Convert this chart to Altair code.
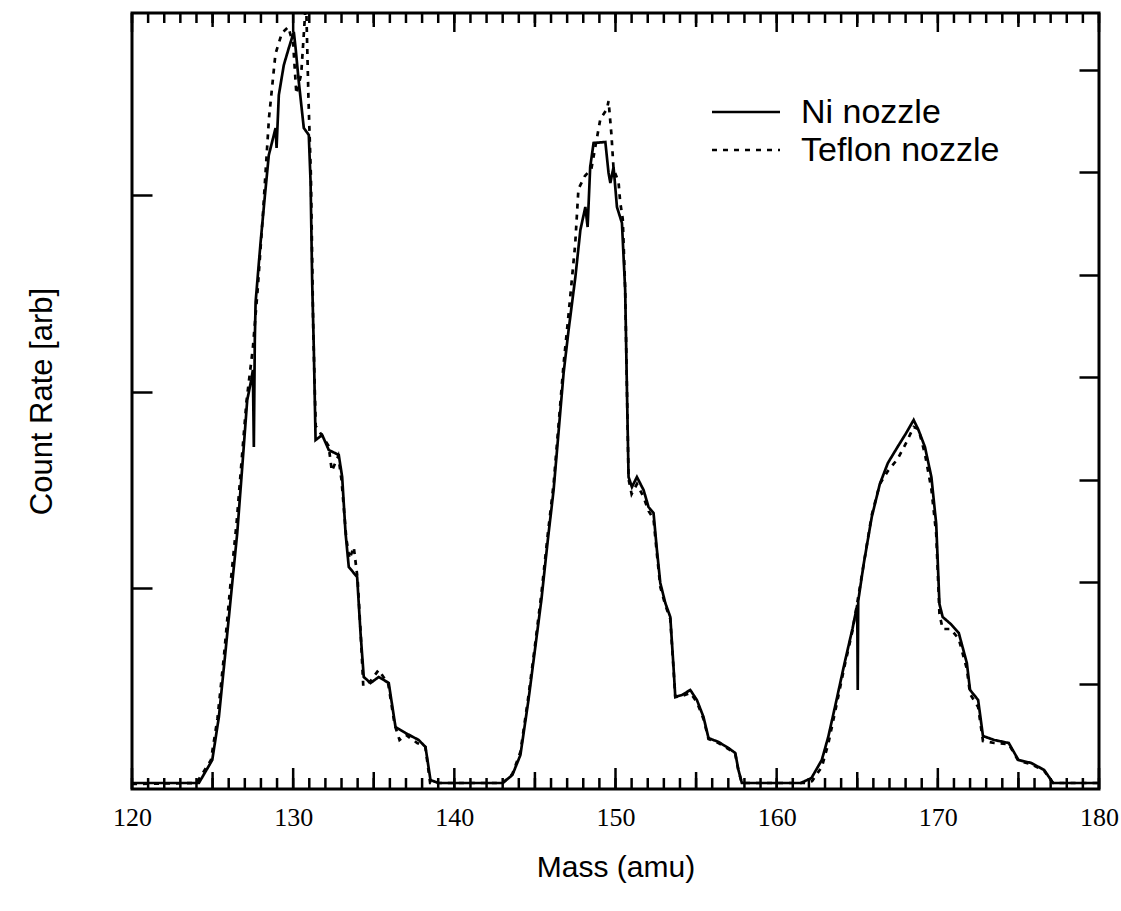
import altair as alt
import pandas as pd

# ---------------- data ----------------
series_names = ["Ni nozzle", "Teflon nozzle"]

ni_mass = [
    120.0, 124.15, 124.98, 125.39, 125.81, 126.22, 126.53, 126.84, 127.15, 127.40,
    127.50, 127.56, 127.62, 127.67, 127.98, 128.25, 128.49, 128.91, 128.97, 129.11,
    129.42, 129.73, 130.04, 130.15, 130.35, 130.66, 130.97, 131.08, 131.18, 131.28,
    131.39, 131.80, 132.21, 132.83, 133.04, 133.25, 133.45, 133.97, 134.18, 134.38,
    134.80, 135.31, 135.93, 136.35, 136.97, 137.79, 138.21, 138.52, 139.0, 143.0,
    143.6, 144.1, 144.6, 145.0, 145.4, 145.8, 146.16, 146.78, 147.09, 147.51,
    147.82, 148.13, 148.27, 148.43, 148.64, 149.37, 149.57, 149.68, 149.88, 150.09,
    150.40, 150.60, 150.71, 150.81, 151.02, 151.33, 151.74, 152.05, 152.36, 152.57,
    152.78, 153.09, 153.40, 153.60, 153.71, 154.12, 154.64, 155.05, 155.46, 155.77,
    156.39, 157.01, 157.43, 157.63, 157.84, 161.5, 162.16, 162.8, 163.2, 163.7,
    164.2, 164.7, 165.0, 165.03, 165.06, 165.4, 165.9, 166.4, 166.9, 167.5,
    168.0, 168.5, 168.8, 169.2, 169.6, 169.9, 170.1, 170.3, 170.8, 171.3,
    171.8, 172.0, 172.5, 172.8, 173.5, 174.4, 175.0, 175.8, 176.6, 177.15,
    180.0,
]
ni_count = [
    0.06, 0.06, 0.29, 0.72, 1.39, 2.06, 2.56, 3.22, 3.89, 4.09,
    4.19, 3.42, 4.49, 4.87, 5.47, 5.94, 6.34, 6.61, 6.41, 6.94,
    7.24, 7.41, 7.57, 7.41, 7.07, 6.61, 6.54, 6.07, 5.07, 4.41,
    3.49, 3.54, 3.39, 3.34, 3.12, 2.56, 2.22, 2.12, 1.56, 1.12,
    1.06, 1.12, 1.06, 0.62, 0.56, 0.49, 0.42, 0.09, 0.06, 0.06,
    0.14, 0.34, 0.89, 1.39, 1.89, 2.49, 2.99, 4.16, 4.59, 5.12,
    5.59, 5.82, 5.62, 6.22, 6.46, 6.47, 6.16, 6.06, 6.22, 5.82,
    5.66, 4.99, 3.99, 3.12, 3.02, 3.12, 2.99, 2.82, 2.76, 2.39,
    2.06, 1.86, 1.72, 1.22, 0.92, 0.94, 0.99, 0.89, 0.72, 0.51,
    0.47, 0.41, 0.36, 0.19, 0.06, 0.06, 0.11, 0.29, 0.52, 0.88,
    1.25, 1.60, 1.84, 0.99, 1.88, 2.25, 2.72, 3.05, 3.26, 3.42,
    3.55, 3.69, 3.59, 3.42, 3.12, 2.65, 1.85, 1.72, 1.65, 1.56,
    1.26, 0.99, 0.89, 0.53, 0.49, 0.46, 0.29, 0.26, 0.19, 0.06,
    0.06,
]

tef_mass = [
    120.0, 124.0, 124.9, 125.3, 125.7, 126.1, 126.5, 126.8, 127.1, 127.5,
    127.8, 128.1, 128.5, 128.9, 129.3, 129.7, 130.0, 130.2, 130.5, 130.8,
    130.95, 131.1, 131.25, 131.4, 131.8, 132.2, 132.4, 132.8, 133.0, 133.3,
    133.5, 133.76, 134.0, 134.2, 134.35, 134.8, 135.3, 135.9, 136.3, 136.6,
    137.0, 137.7, 138.2, 138.5, 143.0, 143.6, 144.1, 144.6, 145.0, 145.4,
    145.8, 146.16, 146.78, 147.09, 147.5, 147.7, 148.1, 148.5, 149.06, 149.47,
    149.57, 149.75, 149.88, 150.19, 150.29, 150.45, 150.6, 150.71, 150.81, 151.0,
    151.33, 151.74, 152.05, 152.36, 152.57, 152.78, 153.09, 153.4, 153.6, 153.71,
    154.12, 154.64, 155.05, 155.46, 155.77, 156.39, 157.01, 157.43, 157.63, 157.84,
    161.8, 162.2, 162.8, 163.2, 163.7, 164.2, 164.7, 165.0, 165.4, 165.9,
    166.4, 166.9, 167.5, 168.0, 168.5, 168.8, 169.2, 169.6, 169.9, 170.1,
    170.3, 170.8, 171.3, 171.8, 172.0, 172.5, 172.8, 173.5, 174.4, 175.0,
    175.8, 176.6, 177.15, 180.0,
]
tef_count = [
    0.05, 0.06, 0.29, 0.70, 1.32, 2.03, 2.68, 3.28, 3.87, 4.41,
    5.00, 5.69, 6.71, 7.35, 7.56, 7.62, 7.45, 6.95, 7.15, 7.90,
    6.90, 6.13, 4.56, 3.63, 3.53, 3.43, 3.18, 3.33, 3.09, 2.50,
    2.30, 2.42, 2.10, 1.52, 1.03, 1.08, 1.19, 1.05, 0.64, 0.49,
    0.54, 0.46, 0.42, 0.06, 0.06, 0.15, 0.37, 0.93, 1.43, 1.95,
    2.55, 3.05, 4.25, 4.75, 5.45, 6.00, 6.13, 6.20, 6.70, 6.80,
    6.88, 6.54, 6.20, 6.07, 5.87, 5.70, 5.00, 4.00, 3.10, 2.95,
    3.05, 2.92, 2.78, 2.70, 2.35, 2.02, 1.84, 1.70, 1.20, 0.92,
    0.93, 0.96, 0.87, 0.70, 0.50, 0.46, 0.40, 0.35, 0.18, 0.06,
    0.06, 0.08, 0.22, 0.45, 0.83, 1.22, 1.58, 1.86, 2.25, 2.74,
    3.05, 3.18, 3.30, 3.45, 3.62, 3.60, 3.35, 3.00, 2.55, 1.75,
    1.60, 1.60, 1.50, 1.20, 0.95, 0.82, 0.48, 0.46, 0.45, 0.28,
    0.25, 0.18, 0.06, 0.06,
]

# tick values
x_major_ticks = [120, 130, 140, 150, 160, 170, 180]
x_five_ticks = [125, 135, 145, 155, 165, 175]
x_unit_ticks = list(range(120, 181))
y_left_ticks = [2.01, 3.97, 5.94]
y_right_ticks = [1.05, 2.07, 3.09, 4.12, 5.14, 6.17, 7.19]

assert len(ni_mass) == len(ni_count)
assert len(tef_mass) == len(tef_count)

df = pd.concat([
    pd.DataFrame({"mass": ni_mass, "count": ni_count, "series": series_names[0]}),
    pd.DataFrame({"mass": tef_mass, "count": tef_count, "series": series_names[1]}),
], ignore_index=True)

# ---------------- styling ----------------
W, H = 967, 776
SANS = "Liberation Sans"
SERIF = "Liberation Serif"
DOTS = [5, 6]
TICK_W = 2.5

xs = alt.Scale(domain=[120, 180], nice=False, zero=False)
ys = alt.Scale(domain=[0, 7.76], nice=False, zero=False)


def inward_axis(orient, values, size, **kw):
    # axis line pushed inside by `size`, ticks pointing back to the frame edge
    return alt.Axis(orient=orient, values=values, tickSize=size, offset=-size,
                    domain=False, grid=False, tickColor="black",
                    tickWidth=TICK_W, **kw)


x_bottom = alt.Axis(
    orient="bottom", values=x_major_ticks, ticks=False, domain=False,
    grid=False, format="d", labelFlush=False, labelOverlap=False,
    labelFont=SERIF, labelFontSize=26, labelColor="black", labelPadding=15,
    title="Mass (amu)", titleFont=SANS, titleFontSize=30,
    titleFontWeight="normal", titleColor="black", titlePadding=22)
y_left = inward_axis(
    "left", y_left_ticks, 20, labels=False,
    title="Count Rate [arb]", titleFont=SANS, titleFontSize=31,
    titleFontWeight="normal", titleColor="black", titlePadding=72)

lines = alt.Chart(df).mark_line(color="black", strokeWidth=2.7, clip=True).encode(
    x=alt.X("mass:Q", scale=xs, axis=x_bottom),
    y=alt.Y("count:Q", scale=ys, axis=y_left),
    strokeDash=alt.StrokeDash(
        "series:N",
        scale=alt.Scale(domain=series_names, range=[[1, 0], DOTS]),
        legend=None),
)

right_axis_layer = alt.Chart(df).mark_point(opacity=0).encode(
    x=alt.X("mass:Q", scale=xs, axis=None),
    y=alt.Y("count:Q", scale=ys,
            axis=inward_axis("right", y_right_ticks, 20, labels=False, title=None)),
)


# x ticks (inward, three lengths) drawn as rules placed by the x scale
def x_tick_layer(values, length, top):
    base = alt.Chart(pd.DataFrame({"tick": values})).mark_rule(
        color="black", strokeWidth=TICK_W)
    if top:
        ypos = dict(y=alt.value(0), y2=alt.value(length))
    else:
        ypos = dict(y=alt.value(H), y2=alt.value(H - length))
    return base.encode(x=alt.X("tick:Q", scale=xs, axis=None), **ypos)


tick_layers = [
    x_tick_layer(x_unit_ticks, 11, top=False),
    x_tick_layer(x_five_ticks, 17, top=False),
    x_tick_layer(x_major_ticks, 21, top=False),
    x_tick_layer(x_unit_ticks, 10, top=True),
    x_tick_layer(x_five_ticks, 14, top=True),
    x_tick_layer(x_major_ticks, 19, top=True),
]

# ---------------- legend (drawn by hand) ----------------
legend_df = pd.DataFrame({"series": series_names})
legend_layers = []
for i, name in enumerate(series_names):
    sub = alt.Chart(legend_df).transform_filter(alt.datum.series == name)
    legend_layers.append(
        sub.mark_rule(color="black", strokeWidth=2.5,
                      strokeDash=[1, 0] if i == 0 else DOTS).encode(
            x=alt.value(580), x2=alt.value(648), y=alt.value(99 + 38 * i)))
    legend_layers.append(
        sub.mark_text(align="left", baseline="middle", font=SANS, fontSize=34,
                      color="black").encode(
            x=alt.value(669), y=alt.value(100 + 38 * i), text="series:N"))

chart = alt.layer(
    lines, right_axis_layer, *tick_layers, *legend_layers
).resolve_axis(
    x="independent", y="independent"
).properties(
    width=W, height=H,
    padding={"left": 132, "top": 13, "right": 22, "bottom": 122},
    autosize=alt.AutoSizeParams(type="none"),
    background="white",
).configure_view(
    stroke="black", strokeWidth=3
)

chart.save("out.html", embed_options={"renderer": "svg", "actions": False})
